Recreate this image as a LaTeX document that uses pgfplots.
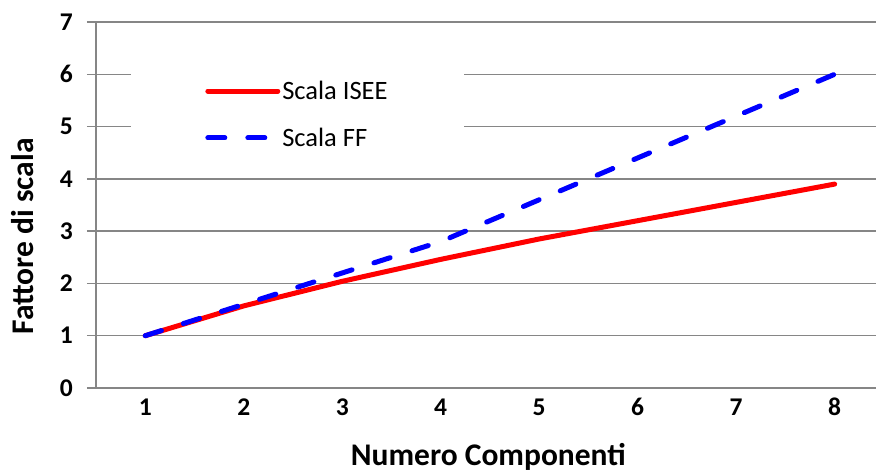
\documentclass[border=0pt]{standalone}
\usepackage{pgfplots}
\pgfplotsset{compat=1.18}
\usepackage{fontspec}
\setmainfont{Carlito}

\definecolor{axisgray}{HTML}{868686}

\begin{document}
\begin{tikzpicture}
\begin{axis}[
  at={(0,0)}, anchor=south west,
  scale only axis,
  width=780pt, height=366pt,
  xmin=0.5, xmax=8.42,
  ymin=0, ymax=7,
  axis x line*=bottom, axis y line*=left,
  axis line style={axisgray, line width=1.3pt},
  xtick={1,...,8},
  major x tick style={draw=none},
  extra x ticks={0.5,1.5,...,7.5},
  extra x tick labels={},
  extra x tick style={grid=none, major tick length=8pt, tick style={axisgray, line width=1.3pt}},
  ytick={0,...,7},
  ymajorgrids,
  grid style={axisgray, line width=1.3pt},
  tick align=outside,
  major tick length=9pt,
  tick style={axisgray, line width=1.3pt},
  /pgf/number format/assume math mode=true,
  ticklabel style={font=\fontsize{25.5}{30}\selectfont\bfseries},
  xticklabel style={anchor=base, yshift=-19pt},
  yticklabel style={anchor=east, inner sep=0pt, xshift=-14pt},
  xlabel={Numero Componenti},
  ylabel={Fattore di scala},
  label style={font=\fontsize{31.5}{36}\selectfont\bfseries},
  xlabel style={at={(axis description cs:0.503,0)}, anchor=base, yshift=-78pt},
  ylabel style={at={(axis description cs:-0.0936,0.414)}, anchor=center},
  legend style={
    at={(axis cs:2.546,5.231)}, anchor=center,
    fill=white, draw=none,
    inner xsep=74pt, inner ysep=16pt,
    font=\fontsize{26.5}{30}\selectfont,
    row sep=23pt,
    cells={anchor=west},
  },
  legend image code/.code={\draw[#1] (0pt,0pt) -- (70pt,0pt);},
]
\addplot[red, line width=5pt, line join=round, line cap=round]
  coordinates {(1,1) (2,1.57) (3,2.04) (4,2.46) (5,2.85) (6,3.2) (7,3.55) (8,3.9)};
\addlegendentry{Scala ISEE}
\addplot[blue, line width=5pt, line cap=round, line join=round, dash pattern=on 17pt off 23pt]
  coordinates {(1,1) (2,1.6) (3,2.2) (4,2.8) (5,3.6) (6,4.4) (7,5.2) (8,6.0)};
\addlegendentry{Scala FF}
\end{axis}
\pgfresetboundingbox
\useasboundingbox (-96pt,-82pt) rectangle (780pt,388pt);
\end{tikzpicture}
\end{document}
